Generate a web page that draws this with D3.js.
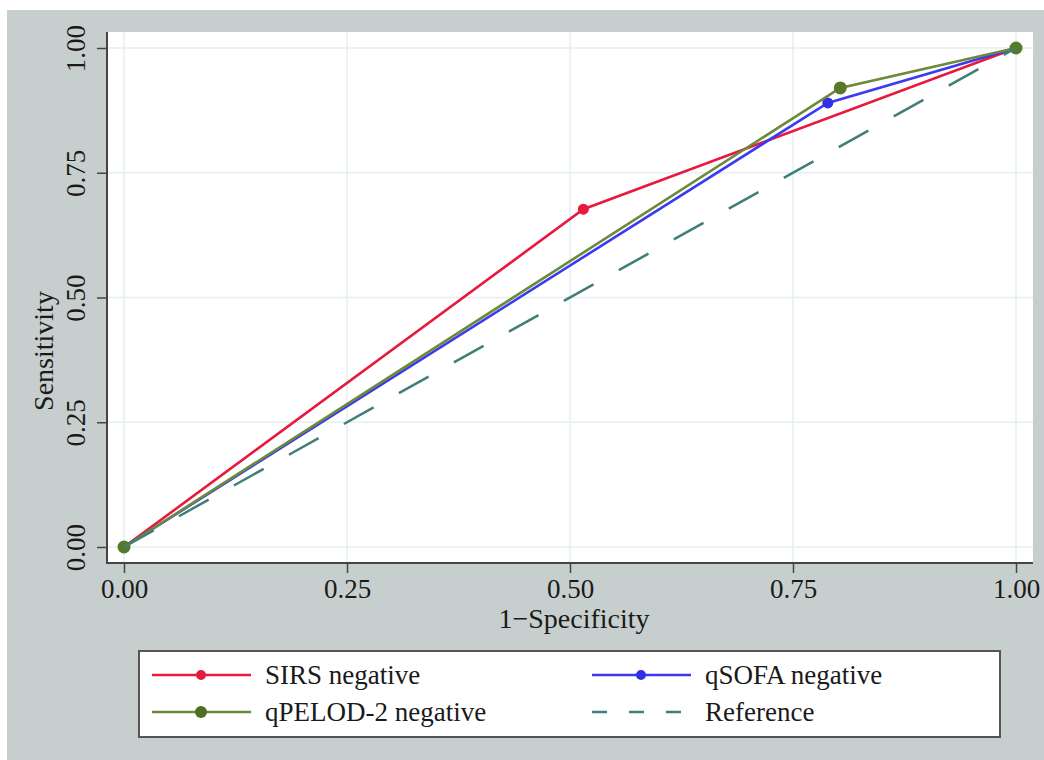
<!DOCTYPE html>
<html>
<head>
<meta charset="utf-8">
<script src="https://cdn.jsdelivr.net/npm/d3@7"></script>
<style>
  body { margin: 0; background: #ffffff; }
  svg { display: block; }
  text { font-family: "Liberation Serif", "Times New Roman", serif; fill: #1a1a1a; }
</style>
</head>
<body>
<svg id="chart" width="1044" height="760"></svg>
<script>
// ---- data ----
const xTicks = [0, 0.25, 0.5, 0.75, 1];
const yTicks = [0, 0.25, 0.5, 0.75, 1];
const sirsX = [0, 0.515, 1];
const sirsY = [0, 0.677, 1];
const qsofaX = [0, 0.789, 1];
const qsofaY = [0, 0.890, 1];
const qpelodX = [0, 0.803, 1];
const qpelodY = [0, 0.920, 1];
const refX = [0, 1];
const refY = [0, 1];
const seriesNames = ["SIRS negative", "qSOFA negative", "qPELOD-2 negative", "Reference"];

const svg = d3.select("#chart");

// outer background
svg.append("rect").attr("x", 7).attr("y", 10).attr("width", 1037).attr("height", 750).attr("fill", "#c7cfce");

// plot region
const pl = 107, pr = 1033, pt = 32, pb = 563;
svg.append("rect").attr("x", pl).attr("y", pt).attr("width", pr - pl).attr("height", pb - pt).attr("fill", "#ffffff");

const x = d3.scaleLinear().domain([0, 1]).range([124, 1016]);
const y = d3.scaleLinear().domain([0, 1]).range([547, 48]);

// grid
const grid = svg.append("g").attr("stroke", "#e6eff0").attr("stroke-width", 1.5);
xTicks.forEach(t => grid.append("line").attr("x1", x(t)).attr("x2", x(t)).attr("y1", pt).attr("y2", pb));
yTicks.forEach(t => grid.append("line").attr("y1", y(t)).attr("y2", y(t)).attr("x1", pl).attr("x2", pr));

const fmt = d3.format(".2f");

// x axis
const gx = svg.append("g").attr("transform", `translate(0,${pb})`)
  .call(d3.axisBottom(x).tickValues(xTicks).tickFormat(fmt).tickSize(10).tickPadding(8));
gx.select(".domain").remove();
gx.selectAll(".tick line").attr("stroke", "#444").attr("stroke-width", 1.5);
gx.selectAll(".tick text").attr("font-size", 27).attr("font-family", "Liberation Serif").attr("fill", "#1a1a1a")
  .attr("y", 35).attr("dy", 0);

// y axis
const gy = svg.append("g").attr("transform", `translate(${pl},0)`)
  .call(d3.axisLeft(y).tickValues(yTicks).tickFormat(fmt).tickSize(10));
gy.select(".domain").remove();
gy.selectAll(".tick line").attr("stroke", "#444").attr("stroke-width", 1.5);
gy.selectAll(".tick text").attr("font-size", 27).attr("font-family", "Liberation Serif").attr("fill", "#1a1a1a")
  .attr("x", 0).attr("dy", 0).attr("text-anchor", "middle")
  .attr("transform", "translate(-22,0) rotate(-90)");

// axis lines
svg.append("line").attr("x1", pl).attr("x2", pl).attr("y1", pt).attr("y2", pb + 1).attr("stroke", "#444").attr("stroke-width", 2);
svg.append("line").attr("x1", pl).attr("x2", pr).attr("y1", pb).attr("y2", pb).attr("stroke", "#444").attr("stroke-width", 2);

// axis titles
svg.append("text").attr("x", 574).attr("y", 628).attr("text-anchor", "middle").attr("font-size", 28).text("1\u2212Specificity");
svg.append("text").attr("transform", "translate(53,351) rotate(-90)").attr("text-anchor", "middle").attr("font-size", 28).text("Sensitivity");

// series
const line = d3.line().x(d => x(d[0])).y(d => y(d[1]));
const series = [
  { xs: sirsX, ys: sirsY, color: "#e8193f", mcolor: "#e8193f", r: 5.5 },
  { xs: qsofaX, ys: qsofaY, color: "#3a3af2", mcolor: "#2f2fe8", r: 5.5 },
  { xs: qpelodX, ys: qpelodY, color: "#6b8a3a", mcolor: "#567a2a", r: 6.5 }
];
series.forEach(s => {
  const pts = s.xs.map((v, i) => [v, s.ys[i]]);
  svg.append("path").datum(pts).attr("d", line).attr("fill", "none").attr("stroke", s.color).attr("stroke-width", 2.6);
  svg.selectAll(null).data(pts).enter().append("circle")
    .attr("cx", d => x(d[0])).attr("cy", d => y(d[1])).attr("r", s.r).attr("fill", s.mcolor);
});
const refPts = refX.map((v, i) => [v, refY[i]]);
svg.append("path").datum(refPts).attr("d", line).attr("fill", "none").attr("stroke", "#3f7f78")
  .attr("stroke-width", 2.5).attr("stroke-dasharray", "34,29");

// legend
svg.append("rect").attr("x", 139).attr("y", 651).attr("width", 861).attr("height", 86)
  .attr("fill", "#ffffff").attr("stroke", "#555").attr("stroke-width", 2);
const legItems = [
  { name: seriesNames[0], color: "#e8193f", mcolor: "#e8193f", r: 5, lx: 152, ly: 675, dash: null },
  { name: seriesNames[1], color: "#3a3af2", mcolor: "#2f2fe8", r: 5, lx: 592, ly: 675, dash: null },
  { name: seriesNames[2], color: "#6b8a3a", mcolor: "#4f6f24", r: 6, lx: 152, ly: 712, dash: null },
  { name: seriesNames[3], color: "#3f7f78", mcolor: null, r: 0, lx: 592, ly: 712, dash: "15,22" }
];
legItems.forEach(it => {
  const l = svg.append("line").attr("x1", it.lx).attr("x2", it.lx + 99).attr("y1", it.ly).attr("y2", it.ly)
    .attr("stroke", it.color).attr("stroke-width", 2.5);
  if (it.dash) l.attr("stroke-dasharray", it.dash);
  if (it.mcolor) svg.append("circle").attr("cx", it.lx + 49).attr("cy", it.ly).attr("r", it.r).attr("fill", it.mcolor);
  svg.append("text").attr("x", it.lx + 113).attr("y", it.ly + 9).attr("font-size", 27).text(it.name);
});
</script>
</body>
</html>
